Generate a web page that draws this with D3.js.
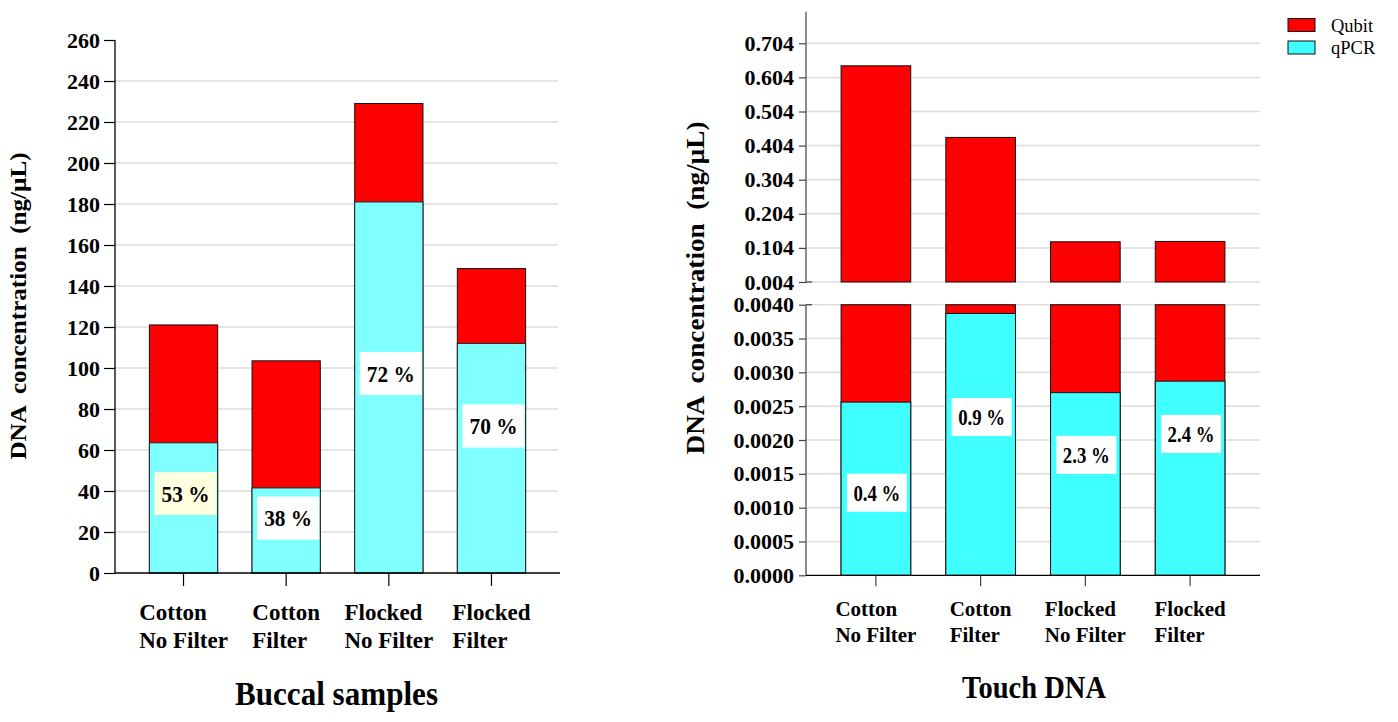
<!DOCTYPE html>
<html><head><meta charset="utf-8">
<script src="https://cdn.jsdelivr.net/npm/d3@7"></script>
<style>body{margin:0;background:#fff}svg{display:block}text{font-family:"Liberation Serif","Times New Roman",serif}</style>
</head><body><svg id="c" width="1398" height="722"></svg>
<script>
const categories = [["Cotton","No Filter"],["Cotton","Filter"],["Flocked","No Filter"],["Flocked","Filter"]];
const buccalQubit = [121, 103.5, 229, 148.5];
const buccalQpcr = [63.5, 41.5, 181, 112];
const buccalPct = ["53 %","38 %","72 %","70 %"];
const buccalPctAt = [38.8, 26.8, 97.3, 71.7];
const buccalTicks = d3.range(0, 261, 20);
const touchQubit = [0.638, 0.428, 0.122, 0.123];
const touchQpcr = [0.00256, 0.00387, 0.00270, 0.00287];
const touchPct = ["0.4 %","0.9 %","2.3 %","2.4 %"];
const touchPctAt = [0.00122, 0.00234, 0.00178, 0.00209];
const touchTopTicks = [0.004,0.104,0.204,0.304,0.404,0.504,0.604,0.704];
const touchBottomTicks = [0,0.0005,0.001,0.0015,0.002,0.0025,0.003,0.0035,0.004];
const seriesNames = ["Qubit","qPCR"];
const yTitle = "DNA  concentration  (ng/µL)";
const RED = "#ff0000", CYAN_L = "#80ffff", CYAN_R = "#40ffff";

const svg = d3.select("#c");
const idx = d3.range(categories.length);

function catLabels(g, x, y0, fs, lh){
  idx.forEach(i=>{
    const grp = g.append("g");
    const ts = categories[i].map((s,k)=>grp.append("text").attr("y", y0 + k*lh)
      .attr("font-size", fs).attr("font-weight","bold").text(s));
    const w = d3.max(ts, t=>t.node().getComputedTextLength());
    const left = x(i) + x.bandwidth()/2 - w/2;
    ts.forEach(t=>t.attr("x", left));
  });
}

// ---------- LEFT: Buccal ----------
{
  const x = d3.scaleBand().domain(idx).range([115,560]).padding(0.335);
  const y = d3.scaleLinear().domain([0,260]).range([573,40]);
  const g = svg.append("g");
  g.selectAll(".gl").data(buccalTicks.filter(t=>t>0 && t<260)).join("line")
    .attr("x1",115).attr("x2",558).attr("y1",d=>y(d)).attr("y2",d=>y(d))
    .attr("stroke","#dcdcdc").attr("stroke-width",1.5);
  g.selectAll(".rq").data(idx).join("rect")
    .attr("x",i=>x(i)).attr("width",x.bandwidth())
    .attr("y",i=>y(buccalQubit[i])).attr("height",i=>y(0)-y(buccalQubit[i]))
    .attr("fill",RED).attr("stroke","#111").attr("stroke-width",1);
  g.selectAll(".rp").data(idx).join("rect")
    .attr("x",i=>x(i)).attr("width",x.bandwidth())
    .attr("y",i=>y(buccalQpcr[i])).attr("height",i=>y(0)-y(buccalQpcr[i]))
    .attr("fill",CYAN_L).attr("stroke","#222").attr("stroke-width",1);
  idx.forEach(i=>{
    const cx = x(i)+x.bandwidth()/2+2, cy = y(buccalPctAt[i]);
    g.append("rect").attr("x",cx-31).attr("y",cy-21.5).attr("width",62).attr("height",43)
      .attr("fill", i===0 ? "#ffffe0" : "#fff");
    g.append("text").attr("x",cx).attr("y",cy).attr("dy","0.35em").attr("text-anchor","middle")
      .attr("font-size",23).attr("font-weight","bold")
      .attr("textLength",48).attr("lengthAdjust","spacingAndGlyphs").text(buccalPct[i]);
  });
  const ya = g.append("g").attr("transform","translate(115,0)")
    .call(d3.axisLeft(y).tickValues(buccalTicks).tickSize(11).tickPadding(4).tickFormat(d3.format("d")));
  ya.select(".domain").attr("stroke","#000").attr("stroke-width",1.3).attr("d","M0,40V573");
  ya.selectAll(".tick line").attr("stroke","#000").attr("stroke-width",1.2);
  ya.selectAll(".tick text").attr("font-size",22).attr("font-weight","bold").attr("fill","#000")
    .style("font-family","'Liberation Serif',serif");
  const xa = g.append("g").attr("transform","translate(0,573)");
  xa.append("line").attr("x1",115).attr("x2",560).attr("stroke","#000").attr("stroke-width",1.3);
  xa.selectAll(".xt").data(idx).join("line")
    .attr("x1",i=>x(i)+x.bandwidth()/2).attr("x2",i=>x(i)+x.bandwidth()/2)
    .attr("y1",0).attr("y2",13).attr("stroke","#000").attr("stroke-width",1.2);
  catLabels(g, x, 620, 23, 28);
  g.append("text").attr("transform","translate(26,306) rotate(-90)").attr("text-anchor","middle")
    .style("white-space","pre").attr("font-size",24).attr("font-weight","bold")
    .attr("textLength",307).attr("lengthAdjust","spacingAndGlyphs").text(yTitle);
  g.append("text").attr("x",336.5).attr("y",705).attr("text-anchor","middle")
    .attr("font-size",33).attr("font-weight","bold").attr("textLength",203)
    .attr("lengthAdjust","spacingAndGlyphs").text("Buccal samples");
}

// ---------- RIGHT: Touch DNA ----------
{
  const x = d3.scaleBand().domain(idx).range([806,1260]).padding(0.335);
  const yT = d3.scaleLinear().domain([0.004,0.704]).range([282,43.3]);
  const yB = d3.scaleLinear().domain([0,0.004]).range([575.3,304.7]);
  const g = svg.append("g");
  g.selectAll(".gt").data(touchTopTicks).join("line")
    .attr("x1",806).attr("x2",1260).attr("y1",d=>yT(d)).attr("y2",d=>yT(d))
    .attr("stroke","#dcdcdc").attr("stroke-width",1.5);
  g.selectAll(".gb").data(touchBottomTicks.filter(d=>d>0)).join("line")
    .attr("x1",806).attr("x2",1260).attr("y1",d=>yB(d)).attr("y2",d=>yB(d))
    .attr("stroke","#dcdcdc").attr("stroke-width",1.5);
  g.selectAll(".tq").data(idx).join("rect")
    .attr("x",i=>x(i)).attr("width",x.bandwidth())
    .attr("y",i=>yT(touchQubit[i])).attr("height",i=>yT(0.004)-yT(touchQubit[i]))
    .attr("fill",RED).attr("stroke","#111").attr("stroke-width",1);
  g.selectAll(".bq").data(idx).join("rect")
    .attr("x",i=>x(i)).attr("width",x.bandwidth())
    .attr("y",i=>yB(Math.min(touchQubit[i],0.004))).attr("height",i=>yB(0)-yB(Math.min(touchQubit[i],0.004)))
    .attr("fill",RED).attr("stroke","#111").attr("stroke-width",1);
  g.selectAll(".bp").data(idx).join("rect")
    .attr("x",i=>x(i)).attr("width",x.bandwidth())
    .attr("y",i=>yB(touchQpcr[i])).attr("height",i=>yB(0)-yB(touchQpcr[i]))
    .attr("fill",CYAN_R).attr("stroke","#111").attr("stroke-width",1);
  idx.forEach(i=>{
    const cx = x(i)+x.bandwidth()/2+1, cy = yB(touchPctAt[i]);
    g.append("rect").attr("x",cx-30).attr("y",cy-19).attr("width",60).attr("height",38).attr("fill","#fff");
    g.append("text").attr("x",cx).attr("y",cy).attr("dy","0.35em").attr("text-anchor","middle")
      .attr("font-size",23).attr("font-weight","bold")
      .attr("textLength",47).attr("lengthAdjust","spacingAndGlyphs").text(touchPct[i]);
  });
  const fmt3 = d3.format(".3f"), fmt4 = d3.format(".4f");
  const yaT = g.append("g").attr("transform","translate(806,0)")
    .call(d3.axisLeft(yT).tickValues(touchTopTicks).tickSize(7).tickPadding(5).tickFormat(fmt3));
  yaT.select(".domain").attr("d","M0,11.7V282").attr("stroke","#666").attr("stroke-width",1.5);
  const yaB = g.append("g").attr("transform","translate(806,0)")
    .call(d3.axisLeft(yB).tickValues(touchBottomTicks).tickSize(7).tickPadding(5).tickFormat(fmt4));
  yaB.select(".domain").attr("d","M0,304.7V575.3").attr("stroke","#666").attr("stroke-width",1.5);
  [yaT,yaB].forEach(a=>{
    a.selectAll(".tick line").attr("stroke","#444").attr("stroke-width",1.2);
    a.selectAll(".tick text").attr("font-size",22).attr("font-weight","bold").attr("fill","#000")
      .style("font-family","'Liberation Serif',serif");
  });
  [yT(0.004), yB(0.004)].forEach(yy=>g.append("line").attr("x1",806).attr("x2",812)
    .attr("y1",yy).attr("y2",yy).attr("stroke","#444").attr("stroke-width",1.2));
  const xa = g.append("g").attr("transform","translate(0,575.3)");
  xa.append("line").attr("x1",806).attr("x2",1260).attr("stroke","#000").attr("stroke-width",1.3);
  xa.selectAll(".xt").data(idx).join("line")
    .attr("x1",i=>x(i)+x.bandwidth()/2).attr("x2",i=>x(i)+x.bandwidth()/2)
    .attr("y1",0).attr("y2",11).attr("stroke","#444").attr("stroke-width",1.2);
  catLabels(g, x, 616, 21, 26);
  g.append("text").attr("transform","translate(704,288) rotate(-90)").attr("text-anchor","middle")
    .style("white-space","pre").attr("font-size",25).attr("font-weight","bold")
    .attr("textLength",333).attr("lengthAdjust","spacingAndGlyphs").text(yTitle);
  g.append("text").attr("x",1034).attr("y",698).attr("text-anchor","middle")
    .attr("font-size",31).attr("font-weight","bold").attr("textLength",144)
    .attr("lengthAdjust","spacingAndGlyphs").text("Touch DNA");
  const lg = svg.append("g");
  const colors = [RED, CYAN_R];
  seriesNames.forEach((s,k)=>{
    lg.append("rect").attr("x",1288).attr("y",18.5+k*22.5).attr("width",27).attr("height",13)
      .attr("fill",colors[k]).attr("stroke","#111").attr("stroke-width",1);
    lg.append("text").attr("x",1331).attr("y",31.5+k*22.5).attr("font-size",18.5).text(s);
  });
}
</script></body></html>
